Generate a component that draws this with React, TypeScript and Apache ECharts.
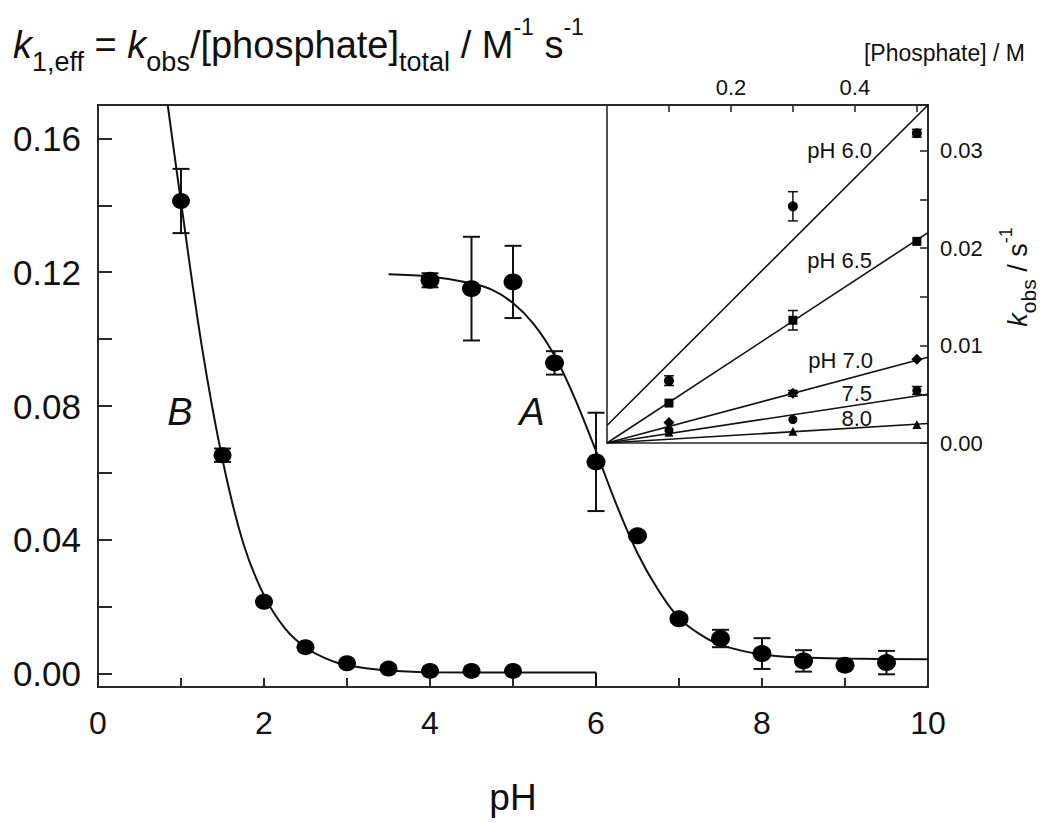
import React, { useEffect, useRef } from 'react';
import * as echarts from 'echarts';

// ---------- main panel data (pH profile) ----------
const phA = [4.0, 4.5, 5.0, 5.5, 6.0, 6.5, 7.0, 7.5, 8.0, 8.5, 9.0, 9.5];
const kA = [0.1176, 0.1151, 0.1171, 0.0929, 0.0633, 0.0412, 0.0164, 0.0105, 0.006, 0.0038, 0.0025, 0.0033];
const errA = [0.0021, 0.0155, 0.0108, 0.0035, 0.0147, 0, 0.001, 0.0026, 0.0046, 0.0032, 0, 0.0035];

const phB = [1.0, 1.5, 2.0, 2.5, 3.0, 3.5, 4.0, 4.5, 5.0];
const kB = [0.1413, 0.0653, 0.0215, 0.0079, 0.0031, 0.0015, 0.0008, 0.0008, 0.0008];
const errB = [0.0096, 0.002, 0, 0, 0, 0, 0, 0, 0];

// fitted curves
const fitAx = [3.5, 4.0, 4.5, 4.75, 5.0, 5.25, 5.5, 5.75, 6.0, 6.25, 6.5, 6.75, 7.0, 7.25, 7.5, 8.0, 8.5, 9.0, 10.0];
const fitAy = [0.1194, 0.1187, 0.1167, 0.1147, 0.1108, 0.1045, 0.0951, 0.082, 0.0665, 0.0503, 0.036, 0.025, 0.0166, 0.0118, 0.0086, 0.0057, 0.0048, 0.0045, 0.0043];
const fitBx = [0.84, 1.0, 1.25, 1.5, 1.75, 2.0, 2.25, 2.5, 2.75, 3.0, 3.5, 4.0, 5.0, 6.0];
const fitBy = [0.17, 0.141, 0.098, 0.064, 0.039, 0.0234, 0.0136, 0.0078, 0.0045, 0.0025, 0.0009, 0.0004, 0.0003, 0.0003];
const dropBx = [6.0, 6.0];
const dropBy = [0.0003, -0.004];

const mainYTicks = [0, 0.02, 0.04, 0.06, 0.08, 0.1, 0.12, 0.14, 0.16];
const mainYLabels = [0, 0.04, 0.08, 0.12, 0.16];

// ---------- inset data (kobs vs [phosphate]) ----------
const phosphate = [0.1, 0.3, 0.5];
const k60 = [0.0064, 0.0243, 0.0318];
const e60 = [0.0005, 0.0015, 0.0004];
const k65 = [0.0041, 0.0126, 0.0207];
const e65 = [0, 0.001, 0];
const k70 = [0.0021, 0.0051, 0.0086];
const e70 = [0, 0.0003, 0];
const k75 = [0.0013, 0.0024, 0.0054];
const e75 = [0, 0, 0.0004];
const k80 = [0.0011, 0.0012, 0.0019];
const e80 = [0, 0, 0];

const fitPhos = [0, 0.518];
const fit60 = [0.0018, 0.0347];
const fit65 = [0, 0.0216];
const fit70 = [0, 0.0088];
const fit75 = [0, 0.005];
const fit80 = [0, 0.002];

const insetXTicks = [0.1, 0.2, 0.3, 0.4, 0.5];
const insetXLabels = [0.2, 0.4];
const insetYTicks = [0, 0.005, 0.01, 0.015, 0.02, 0.025, 0.03];
const insetYLabels = [0, 0.01, 0.02, 0.03];

const FONT = '"Liberation Sans", Arial, Helvetica, sans-serif';
const INK = '#111';
const FRAME = '#2a2a2a';

const zip = (xs: number[], ys: number[]) => xs.map((x, i) => [x, ys[i]]);

function errSeries(xs: number[], ys: number[], es: number[], gi: number, cap: number, lw: number) {
  const data = xs
    .map((x, i) => [x, ys[i] - es[i], ys[i] + es[i], es[i]])
    .filter((d) => d[3] > 0);
  return {
    type: 'custom',
    xAxisIndex: gi,
    yAxisIndex: gi,
    data,
    encode: { x: 0, y: [1, 2] },
    silent: true,
    z: 3,
    renderItem: (_p: any, api: any) => {
      const x = api.value(0);
      const p1 = api.coord([x, api.value(1)]);
      const p2 = api.coord([x, api.value(2)]);
      const st = { stroke: INK, lineWidth: lw, fill: 'none' };
      return {
        type: 'group',
        children: [
          { type: 'line', shape: { x1: p1[0], y1: p1[1], x2: p2[0], y2: p2[1] }, style: st },
          { type: 'line', shape: { x1: p1[0] - cap, y1: p1[1], x2: p1[0] + cap, y2: p1[1] }, style: st },
          { type: 'line', shape: { x1: p2[0] - cap, y1: p2[1], x2: p2[0] + cap, y2: p2[1] }, style: st },
        ],
      };
    },
  };
}

function lineSeries(xs: number[], ys: number[], gi: number, lw: number, smooth: any) {
  return {
    type: 'line',
    xAxisIndex: gi,
    yAxisIndex: gi,
    data: zip(xs, ys),
    showSymbol: false,
    symbol: 'none',
    smooth,
    lineStyle: { color: INK, width: lw, opacity: 1 },
    z: 2,
    silent: true,
  };
}

function scatterSeries(xs: number[], ys: number[], gi: number, symbol: string, size: any) {
  return {
    type: 'scatter',
    xAxisIndex: gi,
    yAxisIndex: gi,
    data: zip(xs, ys),
    symbol,
    symbolSize: size,
    itemStyle: { color: '#000', opacity: 1 },
    z: 4,
    silent: true,
  };
}

export default function App() {
  const ref = useRef<HTMLDivElement>(null);
  useEffect(() => {
    if (!ref.current) return;
    const chart = echarts.init(ref.current, undefined, { renderer: 'svg' });

    const axisLineStyle = { color: FRAME, width: 2 };

    const option: any = {
      animation: false,
      backgroundColor: '#fff',
      grid: [
        { left: 98, top: 105, right: 122, bottom: 136, show: true, borderColor: FRAME, borderWidth: 2, backgroundColor: 'transparent' },
        { left: 607, top: 105, right: 122, bottom: 380, show: true, borderColor: FRAME, borderWidth: 1.6, backgroundColor: 'transparent' },
      ],
      xAxis: [
        {
          gridIndex: 0,
          type: 'value',
          min: 0,
          max: 10,
          interval: 1,
          axisLine: { show: true, onZero: false, lineStyle: axisLineStyle },
          axisTick: { show: true, inside: true, length: 9, lineStyle: { color: FRAME, width: 2 } },
          axisLabel: {
            color: INK,
            fontFamily: FONT,
            fontSize: 32,
            margin: 20,
            formatter: (v: number) => (Math.round(v) % 2 === 0 ? String(v) : ''),
          },
          splitLine: { show: false },
          name: 'pH',
          nameLocation: 'middle',
          nameGap: 92,
          nameTextStyle: { color: INK, fontFamily: FONT, fontSize: 37 },
        },
        {
          gridIndex: 1,
          type: 'value',
          position: 'top',
          min: 0,
          max: 0.518,
          axisLine: { show: true, onZero: false, lineStyle: { color: FRAME, width: 1.6 } },
          axisTick: { show: true, inside: true, length: 7, customValues: insetXTicks, lineStyle: { color: FRAME, width: 1.6 } },
          axisLabel: {
            color: INK,
            fontFamily: FONT,
            fontSize: 22,
            margin: 7,
            customValues: insetXLabels,
            formatter: (v: number) => v.toFixed(1),
          },
          splitLine: { show: false },
        },
      ],
      yAxis: [
        {
          gridIndex: 0,
          type: 'value',
          min: -0.004,
          max: 0.17,
          axisLine: { show: true, onZero: false, lineStyle: axisLineStyle },
          axisTick: { show: true, inside: true, length: 14, customValues: mainYTicks, lineStyle: { color: FRAME, width: 2 } },
          axisLabel: {
            color: INK,
            fontFamily: FONT,
            fontSize: 35,
            margin: 17,
            customValues: mainYLabels,
            formatter: (v: number) => v.toFixed(2),
          },
          splitLine: { show: false },
        },
        {
          gridIndex: 1,
          type: 'value',
          position: 'right',
          min: 0,
          max: 0.0347,
          axisLine: { show: true, onZero: false, lineStyle: { color: FRAME, width: 1.6 } },
          axisTick: { show: true, inside: true, length: 8, customValues: insetYTicks, lineStyle: { color: FRAME, width: 1.6 } },
          axisLabel: {
            color: INK,
            fontFamily: FONT,
            fontSize: 22,
            margin: 12,
            customValues: insetYLabels,
            formatter: (v: number) => v.toFixed(2),
          },
          splitLine: { show: false },
        },
      ],
      series: [
        // main panel
        lineSeries(fitBx, fitBy, 0, 2, 0.35),
        lineSeries(dropBx, dropBy, 0, 2, false),
        lineSeries(fitAx, fitAy, 0, 2, 0.35),
        errSeries(phB, kB, errB, 0, 8.5, 2),
        errSeries(phA, kA, errA, 0, 8.5, 2),
        scatterSeries(phB, kB, 0, 'circle', [18, 16]),
        scatterSeries(phA, kA, 0, 'circle', [19, 17]),
        // inset
        lineSeries(fitPhos, fit60, 1, 1.6, false),
        lineSeries(fitPhos, fit65, 1, 1.6, false),
        lineSeries(fitPhos, fit70, 1, 1.6, false),
        lineSeries(fitPhos, fit75, 1, 1.6, false),
        lineSeries(fitPhos, fit80, 1, 1.6, false),
        errSeries(phosphate, k60, e60, 1, 5, 1.5),
        errSeries(phosphate, k65, e65, 1, 5, 1.5),
        errSeries(phosphate, k70, e70, 1, 5, 1.5),
        errSeries(phosphate, k75, e75, 1, 5, 1.5),
        errSeries(phosphate, k80, e80, 1, 5, 1.5),
        scatterSeries(phosphate, k60, 1, 'circle', 10),
        scatterSeries(phosphate, k65, 1, 'rect', 9),
        scatterSeries(phosphate, k70, 1, 'diamond', 11),
        scatterSeries(phosphate, k75, 1, 'circle', 9),
        scatterSeries(phosphate, k80, 1, 'triangle', 9),
      ],
      graphic: [
        {
          type: 'text',
          left: 13,
          top: 15,
          style: {
            text: '{ki|k}{sub|1,eff}{n| = }{ki|k}{sub|obs}{n|/[phosphate]}{sub|total}{n| / M}{sup|-1}{n| s}{sup|-1}',
            fill: INK,
            rich: {
              n: { fontFamily: FONT, fontSize: 38, lineHeight: 60, verticalAlign: 'middle', fill: INK },
              ki: { fontFamily: FONT, fontSize: 38, fontStyle: 'italic', lineHeight: 60, verticalAlign: 'middle', fill: INK },
              sub: { fontFamily: FONT, fontSize: 27, lineHeight: 37, verticalAlign: 'bottom', fill: INK },
              sup: { fontFamily: FONT, fontSize: 23, lineHeight: 34, verticalAlign: 'top', fill: INK },
            },
          },
        },
        {
          type: 'text',
          x: 1025,
          y: 53,
          style: { text: '[Phosphate] / M', fontFamily: FONT, fontSize: 23, fill: INK, align: 'right', verticalAlign: 'middle' },
        },
        {
          type: 'text',
          x: 1018,
          y: 277,
          rotation: Math.PI / 2,
          style: {
            text: '{ki|k}{sub|obs}{n| / s}{sup|-1}',
            align: 'center',
            verticalAlign: 'middle',
            fill: INK,
            rich: {
              n: { fontFamily: FONT, fontSize: 27, lineHeight: 42, verticalAlign: 'middle', fill: INK },
              ki: { fontFamily: FONT, fontSize: 27, fontStyle: 'italic', lineHeight: 42, verticalAlign: 'middle', fill: INK },
              sub: { fontFamily: FONT, fontSize: 21, lineHeight: 27, verticalAlign: 'bottom', fill: INK },
              sup: { fontFamily: FONT, fontSize: 18, lineHeight: 24, verticalAlign: 'top', fill: INK },
            },
          },
        },
        { type: 'text', x: 532, y: 412, style: { text: 'A', fontFamily: FONT, fontSize: 38, fontStyle: 'italic', fill: INK, align: 'center', verticalAlign: 'middle' } },
        { type: 'text', x: 180, y: 412, style: { text: 'B', fontFamily: FONT, fontSize: 38, fontStyle: 'italic', fill: INK, align: 'center', verticalAlign: 'middle' } },
        { type: 'text', x: 872, y: 150, style: { text: 'pH 6.0', fontFamily: FONT, fontSize: 22, fill: INK, align: 'right', verticalAlign: 'middle' } },
        { type: 'text', x: 872, y: 260, style: { text: 'pH 6.5', fontFamily: FONT, fontSize: 22, fill: INK, align: 'right', verticalAlign: 'middle' } },
        { type: 'text', x: 873, y: 360, style: { text: 'pH 7.0', fontFamily: FONT, fontSize: 22, fill: INK, align: 'right', verticalAlign: 'middle' } },
        { type: 'text', x: 872, y: 393, style: { text: '7.5', fontFamily: FONT, fontSize: 22, fill: INK, align: 'right', verticalAlign: 'middle' } },
        { type: 'text', x: 872, y: 418, style: { text: '8.0', fontFamily: FONT, fontSize: 22, fill: INK, align: 'right', verticalAlign: 'middle' } },
      ],
    };

    chart.setOption(option);
    return () => chart.dispose();
  }, []);

  return <div ref={ref} style={{ position: 'absolute', left: 0, top: 0, width: 1050, height: 823 }} />;
}
